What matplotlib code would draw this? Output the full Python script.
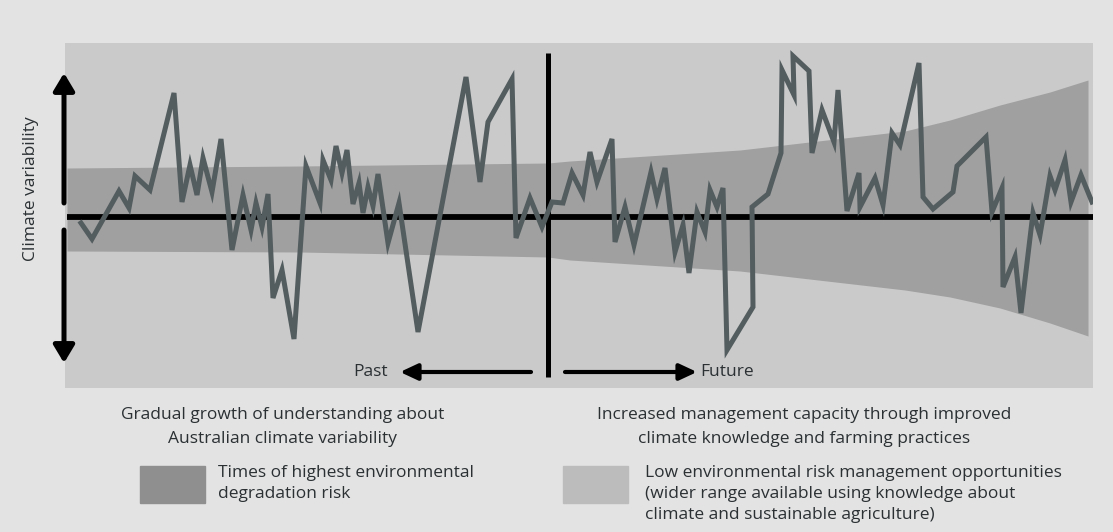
import matplotlib.pyplot as plt

plt.rcParams['font.family'] = ['Open Sans', 'DejaVu Sans']

# 시간 (현재 = 0) 과 기후 변동 값
time = [-467, -456, -429, -419, -413, -398, -374, -366, -358, -351,
        -345, -336, -327, -316, -305, -297, -292, -286, -280, -275,
        -266, -254, -242, -228, -225, -217, -212, -206, -201, -195,
        -189, -185, -180, -175, -170, -160, -149, -130, -82, -68,
        -60, -36, -32, -18, -6, 4, 15, 24, 35, 42,
        49, 64, 67, 77, 86, 103, 109, 117, 127, 135,
        141, 149, 157, 162, 169, 175, 179, 205, 204, 220,
        233, 234, 246, 245, 261, 264, 274, 286, 290, 299,
        311, 312, 327, 335, 344, 352, 371, 375, 385, 405,
        409, 438, 444, 454, 455, 467, 473, 485, 492, 502,
        507, 517, 523, 533, 544]
variability = [-6, -22, 26, 9, 41, 27, 124, 15, 52, 22,
               59, 25, 78, -33, 22, -13, 14, -10, 23, -81,
               -53, -122, 51, 14, 57, 37, 71, 44, 67, 13,
               34, 4, 30, 11, 43, -26, 14, -115, 140, 35,
               95, 138, -21, 19, -10, 15, 14, 44, 22, 65,
               35, 78, -25, 10, -28, 45, 18, 49, -35, -8,
               -56, 5, -15, 27, 10, 29, -133, -90, 10, 23,
               64, 147, 122, 161, 146, 64, 107, 75, 127, 6,
               44, 10, 39, 12, 84, 72, 154, 20, 8, 25,
               51, 80, 5, 29, -70, -40, -96, 4, -18, 41,
               27, 57, 15, 42, 15]

# 고위험 구간 (어두운 띠) 경계
band_time = [-481, -248, 0, 22, 192, 357, 402, 452, 502, 540]
band_upper = [49, 51, 54, 56, 67, 86, 97, 112, 125, 137]
band_lower = [-34, -35, -40, -43, -54, -73, -80, -91, -106, -119]

text_color = '#2b3033'
line_color = '#535c5f'
fs = 12.5

W, H = 1113, 532
fig = plt.figure(figsize=(W / 100, H / 100), dpi=100, facecolor='#e3e3e3')
ax = fig.add_axes([65 / W, (H - 388) / H, (1093 - 65) / W, (388 - 43) / H])
ax.set_facecolor('#cacaca')
ax.set_xlim(-483, 545)
ax.set_ylim(-171, 174)
ax.axis('off')
ax.add_patch(plt.Rectangle((-483, -171), 1028, 345, color='#cacaca', zorder=0))

# 어두운 띠
ax.fill_between(band_time, band_lower, band_upper, color='#a0a0a0', lw=0, zorder=1)

# 기준선과 현재 시점
ax.plot([-481, 545], [0, 0], color='black', lw=4.2, solid_capstyle='butt', zorder=2)
ax.plot([0, 0], [-160, 164], color='black', lw=3.6, solid_capstyle='butt', zorder=2)

# 변동 선
ax.plot(time, variability, color=line_color, lw=3.6, solid_joinstyle='miter', zorder=3)

# 화살표
vstyle = '-|>,head_length=0.75,head_width=0.45'
hstyle = '-|>,head_length=0.75,head_width=0.35'
for y0, y1 in [(14, 144), (-13, -146)]:
    ax.annotate('', xy=(-484, y1), xytext=(-484, y0), annotation_clip=False,
                arrowprops=dict(arrowstyle=vstyle, color='black', lw=3.6,
                                mutation_scale=14, shrinkA=0, shrinkB=0))
ax.annotate('', xy=(-148, -155), xytext=(-17, -155),
            arrowprops=dict(arrowstyle=hstyle, color='black', lw=3.0,
                            mutation_scale=14, shrinkA=0, shrinkB=0))
ax.annotate('', xy=(149, -155), xytext=(17, -155),
            arrowprops=dict(arrowstyle=hstyle, color='black', lw=3.0,
                            mutation_scale=14, shrinkA=0, shrinkB=0))
ax.text(-160, -155, 'Past', ha='right', va='center', fontsize=fs, color=text_color)
ax.text(152, -155, 'Future', ha='left', va='center', fontsize=fs, color=text_color)

# 축 제목
fig.text(31 / W, 1 - 189 / H, 'Climate variability', rotation=90, ha='center', va='center',
         fontsize=fs, color=text_color)

# 아래 설명
fig.text(283 / W, 1 - 427 / H, 'Gradual growth of understanding about\nAustralian climate variability',
         ha='center', va='center', fontsize=fs, color=text_color, linespacing=1.6)
fig.text(804 / W, 1 - 427 / H, 'Increased management capacity through improved\nclimate knowledge and farming practices',
         ha='center', va='center', fontsize=fs, color=text_color, linespacing=1.6)

# 범례
fig.patches.append(plt.Rectangle((140 / W, 1 - 503 / H), 65 / W, 37 / H,
                                 transform=fig.transFigure, color='#8f8f8f'))
fig.patches.append(plt.Rectangle((563 / W, 1 - 503 / H), 65 / W, 37 / H,
                                 transform=fig.transFigure, color='#bcbcbc'))
fig.text(218 / W, 1 - 465 / H, 'Times of highest environmental\ndegradation risk',
         ha='left', va='top', fontsize=fs, color=text_color, linespacing=1.42)
fig.text(645 / W, 1 - 465 / H,
         'Low environmental risk management opportunities\n(wider range available using knowledge about\nclimate and sustainable agriculture)',
         ha='left', va='top', fontsize=fs, color=text_color, linespacing=1.42)

fig.savefig('out.png', dpi=100, facecolor=fig.get_facecolor())
